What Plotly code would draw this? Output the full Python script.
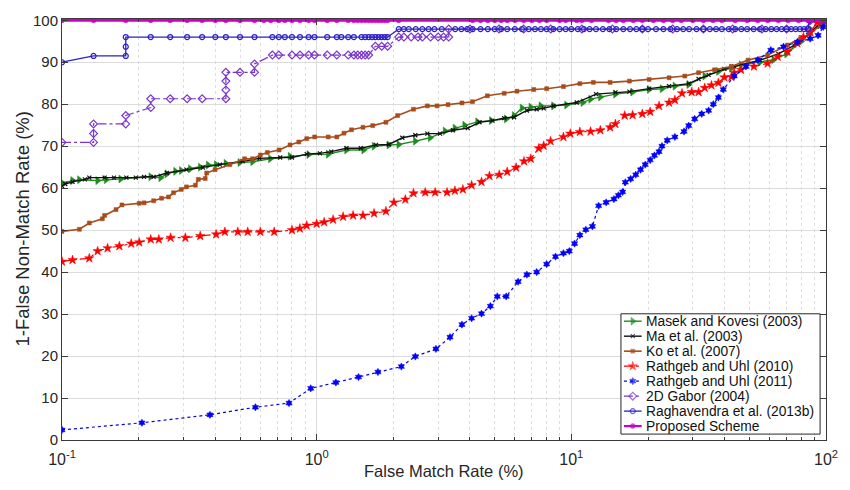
import plotly.graph_objects as go

# ---------------- data (FMR %, 1-FNMR %) ----------------
masek = [(0.1, 61.3), (0.110, 61.8), (0.117, 62.0), (0.138, 61.8), (0.149, 62.0), (0.17, 62.2),
         (0.223, 62.7), (0.244, 62.5), (0.258, 63.4), (0.279, 64.0), (0.294, 64.2), (0.319, 64.6),
         (0.349, 65.0), (0.375, 65.5), (0.403, 65.6), (0.44, 65.9), (0.499, 66.1), (0.56, 66.3),
         (0.658, 67.0), (0.786, 67.6), (0.931, 68.0), (1.11, 68.1), (1.31, 69.1), (1.53, 69.1),
         (1.68, 70.0), (1.92, 70.3), (2.10, 70.4), (2.44, 71.2), (2.79, 72.0), (3.19, 73.6),
         (3.49, 74.3), (3.81, 75.0), (4.28, 75.8), (4.85, 76.1), (5.55, 76.5), (5.96, 77.3),
         (6.40, 79.1), (6.93, 79.3), (7.59, 79.6), (8.51, 79.6), (9.57, 79.8), (11.1, 80.4),
         (11.9, 81.2), (13.0, 81.7), (14.9, 82.4), (17.4, 82.9), (20.2, 83.5), (22.7, 83.7),
         (25.5, 84.3), (28.9, 84.7), (33.4, 86.7), (37.8, 87.8), (42.5, 88.6), (46.4, 89.4),
         (55.0, 90.0), (62.3, 90.6), (70.0, 92.0), (80.0, 95.0), (88.0, 97.6), (95.0, 99.1),
         (100.0, 100.0)]

ma = [(0.1, 60.5), (0.103, 61.0), (0.110, 61.5), (0.123, 62.1), (0.128, 62.5), (0.147, 62.5),
      (0.160, 62.5), (0.179, 62.5), (0.195, 62.5), (0.210, 62.7), (0.229, 62.7), (0.258, 63.6),
      (0.308, 64.4), (0.358, 64.9), (0.417, 65.6), (0.512, 66.4), (0.596, 67.1), (0.719, 67.3),
      (0.800, 67.3), (0.914, 68.1), (1.03, 68.3), (1.14, 68.7), (1.31, 69.5), (1.49, 69.5),
      (1.71, 70.3), (1.92, 70.4), (2.17, 72.0), (2.44, 72.6), (2.72, 73.0), (3.05, 73.0),
      (3.43, 73.8), (3.92, 74.3), (4.36, 75.7), (4.90, 76.1), (5.45, 76.7), (5.96, 76.9),
      (6.69, 78.5), (7.31, 78.8), (7.79, 79.0), (8.51, 79.6), (10.5, 80.4), (12.5, 82.4),
      (14.9, 82.8), (16.9, 83.0), (20.2, 83.7), (24.2, 84.3), (28.9, 84.9), (31.6, 86.0),
      (34.6, 87.0), (39.9, 88.4), (43.6, 89.0), (55.0, 90.5), (65.0, 92.0), (75.0, 94.0),
      (85.0, 96.5), (92.0, 98.5), (100.0, 100.0)]

ko = [(0.1, 49.7), (0.117, 50.2), (0.128, 51.7), (0.144, 52.7), (0.147, 53.5), (0.163, 54.9),
      (0.172, 56.0), (0.201, 56.4), (0.210, 56.5), (0.229, 57.0), (0.246, 57.6), (0.262, 57.9),
      (0.274, 58.9), (0.294, 59.7), (0.308, 60.3), (0.334, 60.7), (0.343, 62.1), (0.365, 62.3),
      (0.370, 63.6), (0.399, 64.4), (0.456, 65.6), (0.521, 67.0), (0.56, 67.0), (0.601, 67.9),
      (0.640, 68.5), (0.712, 69.1), (0.786, 70.3), (0.851, 71.0), (0.914, 71.8), (0.982, 72.2),
      (1.11, 72.2), (1.20, 72.2), (1.28, 73.1), (1.37, 73.9), (1.52, 74.5), (1.66, 74.9),
      (1.87, 75.7), (2.08, 77.3), (2.40, 78.8), (2.72, 79.6), (2.97, 79.6), (3.28, 79.9),
      (3.72, 80.3), (4.09, 80.6), (4.68, 82.0), (5.45, 82.6), (6.12, 83.1), (7.12, 83.5),
      (8.00, 83.7), (9.31, 84.2), (10.8, 84.9), (12.2, 85.2), (14.2, 85.2), (16.9, 85.5),
      (20.2, 85.9), (24.2, 86.3), (27.9, 86.7), (31.6, 87.5), (36.5, 88.2), (42.5, 89.0),
      (49.4, 90.5), (59.0, 91.7), (70.6, 94.1), (79.3, 95.6), (86.7, 96.8), (94.8, 98.7),
      (100.0, 100.0)]

rathgeb2010 = [(0.1, 42.5), (0.110, 42.9), (0.128, 43.3), (0.138, 45.0), (0.151, 45.7), (0.168, 46.2),
               (0.187, 46.8), (0.201, 47.1), (0.223, 47.8), (0.240, 47.8), (0.267, 48.2), (0.305, 48.2),
               (0.349, 48.6), (0.403, 49.0), (0.436, 49.6), (0.490, 49.6), (0.536, 49.6), (0.601, 49.6),
               (0.681, 49.6), (0.800, 50.0), (0.859, 50.4), (0.914, 51.1), (1.0, 51.5), (1.07, 51.9),
               (1.16, 52.5), (1.27, 53.2), (1.39, 53.5), (1.52, 53.5), (1.68, 54.0), (1.87, 54.5),
               (2.01, 56.6), (2.23, 57.3), (2.40, 58.8), (2.67, 59.0), (2.92, 59.0), (3.25, 59.0),
               (3.49, 59.4), (3.75, 59.7), (4.06, 60.7), (4.44, 61.5), (4.77, 62.9), (5.21, 63.2),
               (5.60, 63.9), (6.07, 64.9), (6.52, 66.4), (6.93, 67.0), (7.45, 69.5), (7.79, 70.1),
               (8.29, 71.2), (9.31, 72.2), (9.91, 73.0), (10.8, 73.4), (11.9, 73.5), (13.0, 73.8),
               (14.2, 74.5), (14.9, 75.3), (16.2, 77.3), (17.4, 77.4), (19.0, 77.7), (20.4, 78.2),
               (22.1, 79.6), (24.2, 80.4), (25.5, 81.0), (27.2, 82.6), (29.7, 82.9), (31.6, 82.9),
               (33.4, 83.9), (35.5, 84.5), (37.8, 85.1), (39.9, 86.4), (42.5, 86.5), (43.6, 87.5),
               (46.4, 88.2), (52.1, 89.0), (59.0, 89.7), (64.6, 91.3), (70.6, 92.5), (77.2, 94.5),
               (81.5, 96.0), (86.7, 97.2), (92.3, 99.5), (97.5, 100.0)]

rathgeb2011 = [(0.1, 2.4), (0.206, 4.1), (0.381, 6.0), (0.575, 7.8), (0.779, 8.8), (0.948, 12.3),
               (1.19, 13.7), (1.46, 15.0), (1.74, 16.2), (2.15, 17.5), (2.44, 19.9), (2.94, 21.7),
               (3.34, 24.5), (3.72, 27.5), (4.06, 29.0), (4.44, 30.1), (4.81, 31.9), (5.12, 34.2),
               (5.55, 34.2), (6.18, 37.7), (6.69, 39.4), (7.31, 40.0), (8.00, 41.9), (8.67, 43.7),
               (9.31, 44.5), (9.82, 45.0), (10.3, 46.8), (10.8, 48.8), (11.4, 50.1), (12.1, 50.9),
               (12.8, 55.8), (13.7, 56.6), (14.7, 57.4), (15.3, 58.3), (15.9, 59.1), (16.3, 61.4),
               (17.1, 62.2), (17.9, 63.2), (18.7, 64.4), (19.5, 65.6), (20.4, 66.7), (21.2, 67.8),
               (22.1, 68.7), (22.7, 70.0), (23.8, 71.4), (25.5, 72.2), (27.7, 73.5), (28.9, 74.9),
               (30.5, 76.5), (32.5, 77.7), (34.6, 78.5), (36.1, 80.0), (37.8, 81.6), (39.5, 83.5),
               (43.6, 86.7), (48.5, 89.0), (54.0, 90.5), (60.7, 92.9), (68.1, 93.7), (77.2, 94.8),
               (86.7, 95.6), (93.1, 96.4), (97.5, 98.4), (100.0, 99.9)]

gabor = [(0.1, 70.9), (0.133, 70.9), (0.133, 73.0), (0.133, 75.3), (0.178, 75.3), (0.178, 77.3),
         (0.223, 79.2), (0.223, 81.3), (0.266, 81.3), (0.31, 81.3), (0.355, 81.3), (0.44, 81.3),
         (0.44, 83.4), (0.44, 85.5), (0.44, 87.6), (0.50, 87.6), (0.57, 87.6), (0.57, 89.6),
         (0.67, 91.7), (0.71, 91.7), (0.80, 91.7), (0.86, 91.7), (0.93, 91.7), (0.98, 91.7),
         (1.1, 91.7), (1.2, 91.7), (1.33, 91.7), (1.4, 91.7), (1.45, 91.7), (1.5, 91.7),
         (1.55, 91.7), (1.6, 91.7), (1.7, 93.8), (1.8, 93.8), (1.9, 93.8), (2.1, 96.0),
         (2.2, 96.0), (2.35, 96.0), (2.5, 96.0), (2.6, 96.0), (2.8, 96.0), (3.0, 96.0),
         (3.15, 96.0), (3.3, 96.0), (3.3, 97.9), (4.0, 97.9), (5.2, 97.9), (6.5, 97.9),
         (8.3, 97.9), (11.0, 97.9), (14.5, 97.9), (19.0, 97.9), (25.0, 97.9), (33.0, 97.9),
         (43.0, 97.9), (56.0, 97.9), (70.0, 97.9), (85.0, 97.9), (87.0, 100.0), (100.0, 100.0)]

raghavendra = [(0.1, 90.0), (0.133, 91.5), (0.178, 91.5), (0.178, 93.7), (0.178, 96.0),
               (0.223, 96.0), (0.266, 96.0), (0.31, 96.0), (0.355, 96.0), (0.40, 96.0), (0.44, 96.0),
               (0.50, 96.0), (0.57, 96.0), (0.67, 96.0), (0.71, 96.0), (0.75, 96.0), (0.80, 96.0),
               (0.86, 96.0), (0.93, 96.0), (0.98, 96.0), (1.1, 96.0), (1.2, 96.0), (1.25, 96.0),
               (1.33, 96.0), (1.4, 96.0), (1.5, 96.0), (1.55, 96.0), (1.6, 96.0), (1.65, 96.0),
               (1.7, 96.0), (1.75, 96.0), (1.8, 96.0), (1.85, 96.0), (1.9, 96.0), (2.1, 97.9),
               (2.2, 97.9), (2.3, 97.9), (2.45, 97.9), (2.6, 97.9), (2.75, 97.9), (2.9, 97.9),
               (3.1, 97.9), (3.5, 97.9), (3.7, 97.9), (3.9, 97.9), (4.1, 97.9), (4.4, 97.9),
               (4.7, 97.9), (5.0, 97.9), (5.3, 97.9), (5.6, 97.9), (6.0, 97.9), (6.4, 97.9),
               (6.8, 97.9), (7.2, 97.9), (7.6, 97.9), (8.0, 97.9), (8.5, 97.9), (9.0, 97.9),
               (9.5, 97.9), (10.0, 97.9), (10.6, 97.9), (11.2, 97.9), (11.8, 97.9), (12.5, 97.9),
               (13.3, 97.9), (14.1, 97.9), (15.0, 97.9), (16.0, 97.9), (17.0, 97.9), (18.0, 97.9),
               (19.0, 97.9), (20.0, 97.9), (21.5, 97.9), (23.0, 97.9), (24.5, 97.9), (26.0, 97.9),
               (27.5, 97.9), (29.0, 97.9), (31.0, 97.9), (33.0, 97.9), (35.0, 97.9), (37.0, 97.9),
               (39.0, 97.9), (41.5, 97.9), (44.0, 97.9), (46.5, 97.9), (49.0, 97.9), (52.0, 97.9),
               (55.0, 97.9), (58.0, 97.9), (61.0, 97.9), (64.0, 97.9), (67.0, 97.9), (70.0, 97.9),
               (73.0, 97.9), (76.0, 97.9), (79.0, 97.9), (82.0, 97.9), (85.0, 97.9), (86.0, 100.0),
               (100.0, 100.0)]

proposed = [(0.1, 100), (0.133, 100), (0.178, 100), (0.223, 100), (0.266, 100), (0.31, 100),
            (0.355, 100), (0.40, 100), (0.44, 100), (0.50, 100), (0.57, 100), (0.62, 100),
            (0.66, 100), (0.71, 100), (0.75, 100), (0.80, 100), (0.86, 100), (0.93, 100),
            (0.98, 100), (1.1, 100), (1.2, 100), (1.33, 100), (1.4, 100), (1.45, 100),
            (1.5, 100), (1.55, 100), (1.6, 100), (1.65, 100), (1.7, 100), (1.75, 100),
            (1.8, 100), (1.85, 100), (1.9, 100), (2.1, 100), (4.1, 100), (4.4, 100), (4.7, 100),
            (5.0, 100), (5.3, 100), (5.6, 100), (6.0, 100), (6.5, 100), (7.0, 100), (7.5, 100),
            (8.0, 100), (9.0, 100), (9.5, 100), (10.5, 100), (11.0, 100), (12.0, 100),
            (14.0, 100), (15.0, 100), (16.0, 100), (17.5, 100), (19.0, 100), (21.0, 100),
            (23.0, 100), (25.0, 100), (27.0, 100), (30.0, 100), (33.0, 100), (36.0, 100),
            (39.0, 100), (44.0, 100), (49.0, 100), (54.0, 100), (59.0, 100), (65.0, 100),
            (71.0, 100), (78.0, 100), (85.0, 100), (90.0, 100), (95.0, 100), (100.0, 100)]

series_names = ["Masek and Kovesi (2003)", "Ma et al. (2003)", "Ko et al. (2007)",
                "Rathgeb and Uhl (2010)", "Rathgeb and Uhl (2011)", "2D Gabor (2004)",
                "Raghavendra et al. (2013b)", "Proposed Scheme"]

x_tick_vals = [0.1, 1, 10, 100]
x_tick_text = ["10<sup>-1</sup>", "10<sup>0</sup>", "10<sup>1</sup>", "10<sup>2</sup>"]
x_minor_vals = [0.2, 0.3, 0.4, 0.5, 0.6, 0.7, 0.8, 0.9, 2, 3, 4, 5, 6, 7, 8, 9,
                20, 30, 40, 50, 60, 70, 80, 90]
y_tick_vals = [0, 10, 20, 30, 40, 50, 60, 70, 80, 90, 100]

# ---------------- styles ----------------
styles = [
    dict(color="#1e8c1e", dash="solid", width=1.4, symbol="triangle-right", size=7, open=False),
    dict(color="#111111", dash="solid", width=1.4, symbol="x-thin", size=4, open=False),
    dict(color="#a84c1c", dash="solid", width=1.6, symbol="square", size=4, open=False),
    dict(color="#ff0000", dash="dashdot", width=1.2, symbol="star", size=7, open=False),
    dict(color="#0000ff", dash="dot", width=1.2, symbol="hexagram", size=5.5, open=False),
    dict(color="#7b35cc", dash="dashdot", width=1.2, symbol="diamond-open", size=6, open=True),
    dict(color="#2a1fc4", dash="solid", width=1.3, symbol="circle-open", size=5, open=True),
    dict(color="#c800c8", dash="solid", width=2.8, symbol="circle", size=5, open=False),
]


def make_marker(st, size):
    m = dict(symbol=st["symbol"], size=size, color=st["color"])
    if st["symbol"] == "x-thin" or st["open"]:
        m["line"] = dict(color=st["color"], width=1.2)
    else:
        m["line"] = dict(color=st["color"], width=0.5)
    return m


all_series = [masek, ma, ko, rathgeb2010, rathgeb2011, gabor, raghavendra, proposed]

fig = go.Figure()
for name, pts, st in zip(series_names, all_series, styles):
    xs, ys = zip(*pts)
    fig.add_trace(go.Scatter(
        x=list(xs), y=list(ys), name=name, mode="lines+markers", showlegend=False,
        line=dict(color=st["color"], dash=st["dash"], width=st["width"]),
        marker=make_marker(st, st["size"]),
    ))

# ---------------- legend (drawn on a pixel-like overlay axis) ----------------
L, R, T, B = 62, 837, 13, 440          # plot area in page pixels
box_l, box_r, box_t, box_b = 629, 831, 312, 434
row0, row_gap = 319.5, 15.2
fig.add_trace(go.Scatter(
    x=[box_l, box_r, box_r, box_l, box_l], y=[box_t, box_t, box_b, box_b, box_t],
    xaxis="x2", yaxis="y2", mode="lines", fill="toself", fillcolor="white",
    line=dict(color="#262626", width=1), showlegend=False, hoverinfo="skip"))

font_family = "Liberation Sans, Arial, sans-serif"
annotations = []
for i, (name, st) in enumerate(zip(series_names, styles)):
    yy = row0 + i * row_gap
    fig.add_trace(go.Scatter(
        x=[632, 641, 650], y=[yy, yy, yy], xaxis="x2", yaxis="y2",
        mode="lines+markers", showlegend=False, hoverinfo="skip",
        line=dict(color=st["color"], dash=st["dash"], width=min(st["width"], 2.2)),
        marker=make_marker(st, [0, st["size"], 0]),
    ))
    annotations.append(dict(
        text=name, xref="x2", yref="y2", x=652, y=yy, xanchor="left", yanchor="middle",
        showarrow=False, font=dict(size=13.8, family=font_family, color="#111")))

axis_color = "#3a3a3a"

annotations += [
    dict(text="False Match Rate (%)", xref="paper", yref="paper", x=0.5, y=0,
         yshift=-31, xanchor="center", yanchor="middle", showarrow=False,
         font=dict(size=16.5, family=font_family, color="#262626")),
    dict(text="1-False Non-Match Rate (%)", xref="paper", yref="paper", x=0, y=0.5,
         xshift=-40, xanchor="center", yanchor="middle", textangle=-90, showarrow=False,
         font=dict(size=18.5, family=font_family, color="#262626")),
]

fig.update_layout(
    width=850, height=490,
    margin=dict(l=L, r=850 - R, t=T, b=490 - B),
    paper_bgcolor="white", plot_bgcolor="white",
    font=dict(family=font_family, color="#262626", size=15),
    showlegend=False,
    xaxis=dict(
        type="log", range=[-1, 2],
        tickmode="array", tickvals=x_tick_vals, ticktext=x_tick_text,
        ticks="inside", ticklen=6, tickcolor=axis_color,
        showline=True, linecolor=axis_color, linewidth=1, mirror="allticks",
        showgrid=True, gridcolor="#dcdcdc", gridwidth=1,
        zeroline=False, ticklabelstandoff=5,
        tickfont=dict(size=16, color="#262626"),
        minor=dict(tickvals=x_minor_vals, ticks="inside", ticklen=3, tickcolor=axis_color,
                   showgrid=True, gridcolor="#dedede", griddash="dot", gridwidth=1),
    ),
    yaxis=dict(
        range=[0, 100.3], tickmode="array", tickvals=y_tick_vals,
        ticks="inside", ticklen=6, tickcolor=axis_color,
        showline=True, linecolor=axis_color, linewidth=1, mirror="allticks",
        showgrid=True, gridcolor="#dcdcdc", gridwidth=1,
        zeroline=False,
        tickfont=dict(size=15, color="#262626"),
    ),
    xaxis2=dict(overlaying="x", range=[L, R], visible=False, fixedrange=True),
    yaxis2=dict(overlaying="y", range=[B, T], visible=False, fixedrange=True),
    annotations=annotations,
)

fig.write_html("out.html")
